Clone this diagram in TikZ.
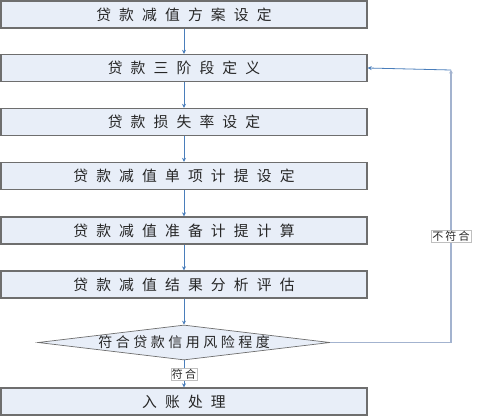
\documentclass[tikz,border=0pt]{standalone}
\usepackage{fontspec}
\newfontfamily\cjk[LetterSpace=55]{Noto Sans CJK SC}
\newfontfamily\cjkd[LetterSpace=25]{Noto Sans CJK SC}
\newfontfamily\cjks[LetterSpace=20]{Noto Sans CJK SC}
\usetikzlibrary{shapes.geometric,arrows.meta}
\definecolor{boxfill}{HTML}{E8EEF8}
\definecolor{boxline}{HTML}{6E6E6E}
\definecolor{arrowc}{HTML}{4A7EBB}
\definecolor{backc}{HTML}{A3B3CF}
\tikzset{
  stepbox/.style={draw=boxline, line width=1.3pt, fill=boxfill, minimum width=366pt, minimum height=27pt, inner sep=0pt, font=\cjk\fontsize{14.8}{15}\selectfont, text=black!85},
  decision/.style={draw=boxline, line width=0.7pt, fill=boxfill, diamond, aspect=8.3, minimum width=292pt, minimum height=35pt, inner sep=0pt, font=\cjkd\fontsize{14}{15}\selectfont, text=black!85},
  flow/.style={draw=arrowc, line width=0.8pt, -{Stealth[length=4pt,width=4pt]}},
  back/.style={draw=backc, line width=1.4pt},
  lab/.style={draw=black!25, line width=0.4pt, fill=white, inner sep=1pt, font=\cjks\fontsize{11}{12}\selectfont, text=black!85}
}
\begin{document}
\begin{tikzpicture}[x=1pt,y=-1pt]
\useasboundingbox (0,0) rectangle (493,418);
\node[stepbox] (b1) at (184,14.5) {贷款减值方案设定};
\node[stepbox] (b2) at (184,68) {贷款三阶段定义};
\node[stepbox] (b3) at (184,122) {贷款损失率设定};
\node[stepbox] (b4) at (184,176) {贷款减值单项计提设定};
\node[stepbox] (b5) at (184,230.5) {贷款减值准备计提计算};
\node[stepbox] (b6) at (184,284.5) {贷款减值结果分析评估};
\node[decision] (d) at (184,342.5) {符合贷款信用风险程度};
\node[stepbox] (b7) at (184,401.5) {入账处理};
\coordinate (c1) at (451,342.5);
\coordinate (c2) at (451,70);
\draw[flow] (b1) -- (b2);
\draw[flow] (b2) -- (b3);
\draw[flow] (b3) -- (b4);
\draw[flow] (b4) -- (b5);
\draw[flow] (b5) -- (b6);
\draw[flow] (b6) -- (d);
\draw[flow] (d) -- node[lab] (l1) {符合} (b7);
\draw[back, -{Stealth[length=3.5pt,width=4pt]}] (d.east) -- (c1) -- node[lab, pos=0.39] (l2) {不符合} (c2);
\draw[flow] (c2) -- (b2.east);
\end{tikzpicture}
\end{document}
